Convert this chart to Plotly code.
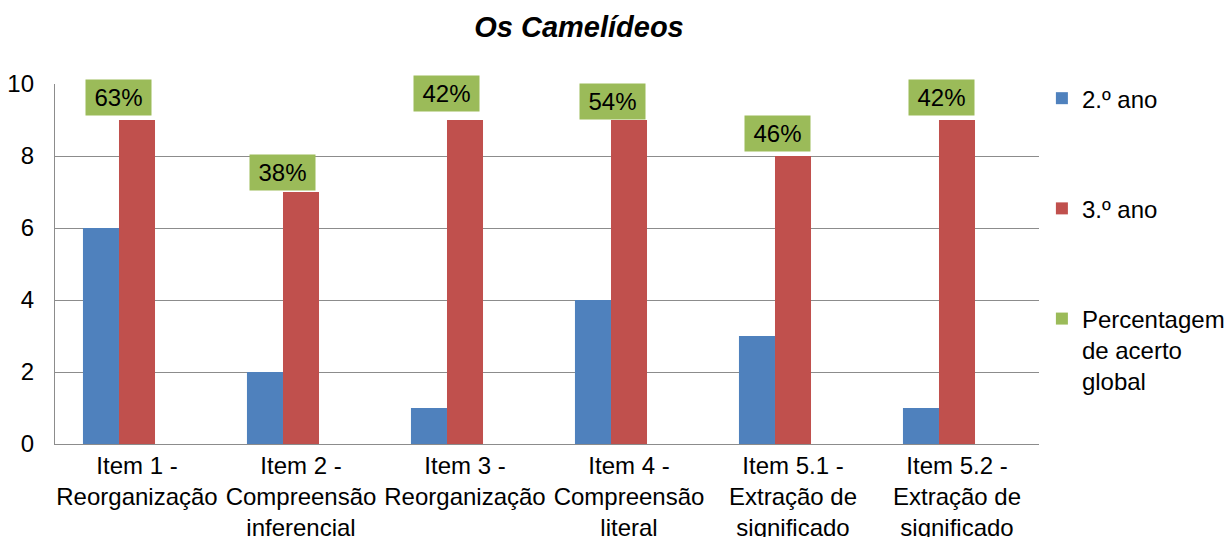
import plotly.graph_objects as go

# Data
categories = [
    "Item 1 -<br>Reorganização",
    "Item 2 -<br>Compreensão<br>inferencial",
    "Item 3 -<br>Reorganização",
    "Item 4 -<br>Compreensão<br>literal",
    "Item 5.1 -<br>Extração de<br>significado",
    "Item 5.2 -<br>Extração de<br>significado",
]
ano2 = [6, 2, 1, 4, 3, 1]
ano3 = [9, 7, 9, 9, 8, 9]
acerto_global = [63, 38, 42, 54, 46, 42]  # percent

series_names = ["2.º ano", "3.º ano", "Percentagem<br>de acerto<br>global"]

# Label placement (pixel nudges of each percentage box above the 3.º ano bar)
label_dx = [-19, -19, -19, -17, -16, -16]
label_dy = [23, 20, 27, 19, 23, 23]

FONT = "Liberation Sans, Arial, sans-serif"
BLUE, RED, GREEN = "#4F81BD", "#C0504D", "#9BBB59"
GRID = "#8C8C8C"

fig = go.Figure()
fig.add_trace(go.Bar(name=series_names[0], x=categories, y=ano2,
                     marker=dict(color=BLUE, line=dict(width=0)),
                     legendgroup="a"))
fig.add_trace(go.Bar(name=series_names[1], x=categories, y=ano3,
                     marker=dict(color=RED, line=dict(width=0)),
                     legendgroup="b"))
# Global percentage series: shown through the labelled boxes only
fig.add_trace(go.Bar(name=series_names[2], x=categories,
                     y=[None] * len(categories),
                     customdata=acerto_global,
                     marker=dict(color=GREEN, line=dict(width=0)),
                     legendgroup="c"))

for i, (cat, v, pct) in enumerate(zip(categories, ano3, acerto_global)):
    fig.add_annotation(
        x=cat, y=v, xref="x", yref="y",
        text=f"{pct}%", showarrow=False,
        xshift=label_dx[i], yshift=label_dy[i],
        xanchor="center", yanchor="middle",
        bgcolor=GREEN, width=65, height=35, borderpad=0,
        font=dict(family=FONT, size=24, color="#000000"),
    )

fig.update_layout(
    width=1230, height=537,
    margin=dict(l=55, r=191, t=84, b=93, autoexpand=False),
    paper_bgcolor="white", plot_bgcolor="white",
    barmode="group", bargap=0.341, bargroupgap=0,
    font=dict(family=FONT, size=24, color="#000000"),
    title=dict(text="<b><i>Os Camelídeos</i></b>", x=0.5325, xref="paper",
               xanchor="center", y=0.95, yanchor="middle",
               font=dict(family=FONT, size=29, color="#000000")),
    legend=dict(x=1.194, xanchor="right", y=1.022, yanchor="top",
                valign="top", tracegroupgap=76, maxheight=460,
                font=dict(family=FONT, size=24, color="#000000"),
                itemwidth=30, bgcolor="rgba(0,0,0,0)"),
    showlegend=True,
)

fig.update_yaxes(range=[0, 10], dtick=2, showgrid=True, gridcolor=GRID,
                 gridwidth=1.3, showline=True, linecolor=GRID, linewidth=1.3,
                 ticks="", ticklabelstandoff=15, zeroline=False,
                 automargin=False,
                 tickfont=dict(family=FONT, size=24, color="#000000"))
fig.update_xaxes(showline=True, linecolor=GRID, linewidth=1.3, ticks="",
                 showgrid=False, tickangle=0, mirror=False, automargin=False,
                 tickfont=dict(family=FONT, size=24, color="#000000"))

fig.write_html("out.html")
